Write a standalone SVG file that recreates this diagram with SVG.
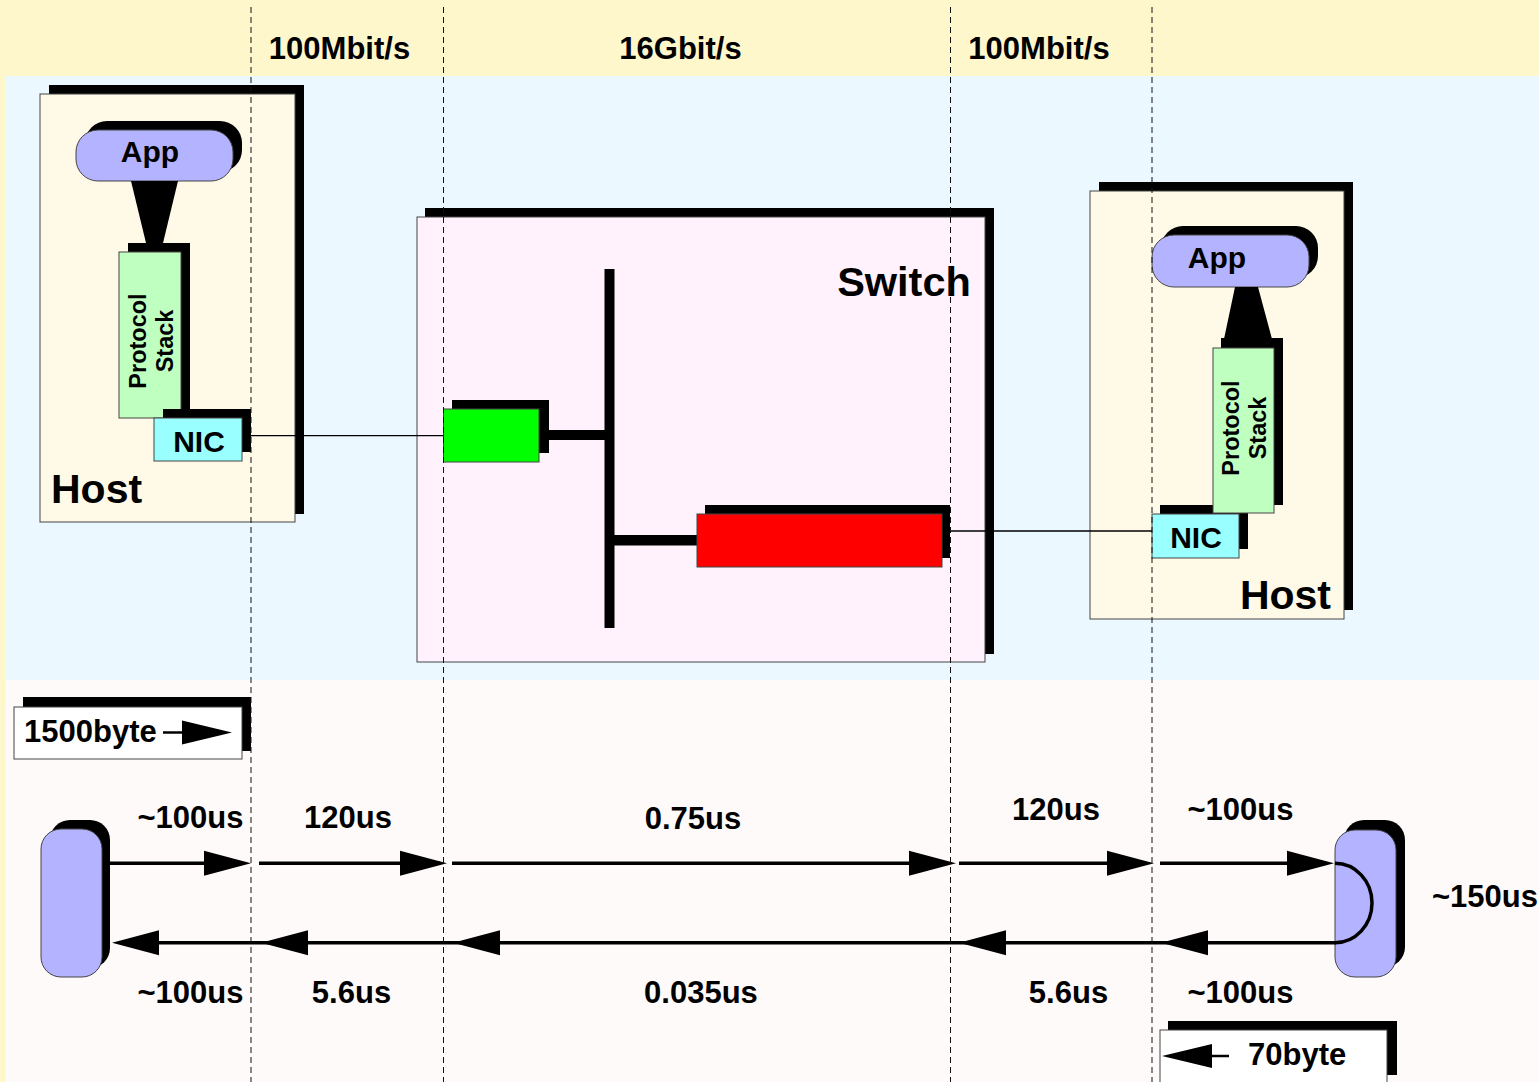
<svg xmlns="http://www.w3.org/2000/svg" xmlns:xlink="http://www.w3.org/1999/xlink" width="1539" height="1082" viewBox="0 0 1539 1082">
<style>
text{font-family:"Liberation Sans",Arial,Helvetica,sans-serif;font-weight:bold;fill:#000}
.lbl{font-size:31px;text-anchor:middle}
.box{stroke:#444;stroke-width:1}
.shadow{fill:#000}
.host{fill:#fff9e8}
.app{fill:#b3b3ff}
.ps{fill:#bfffbf}
.nic{fill:#99ffff}
.thin{stroke:#000;stroke-width:1.3;fill:none}
.arr{stroke:#000;stroke-width:3.5;fill:none}
.dash{stroke:#111;stroke-width:1;stroke-dasharray:6 4;fill:none}
</style>
<defs>
<polygon id="ahR" points="0,0 -47,-12.5 -47,12.5" fill="#000"/>
<polygon id="ahL" points="0,0 47,-12.5 47,12.5" fill="#000"/>
</defs>

<g id="background">
<rect x="0" y="0" width="1539" height="1082" fill="#fff7cc"/>
<rect x="5.5" y="76" width="1534" height="604" fill="#ecf8ff"/>
<rect x="5.5" y="680" width="1534" height="402" fill="#fffafa"/>
</g>

<g id="rate-labels">
<text class="lbl" x="339.5" y="59">100Mbit/s</text>
<text class="lbl" x="680.5" y="59">16Gbit/s</text>
<text class="lbl" x="1039" y="59">100Mbit/s</text>
</g>

<g id="host-left">
<rect class="shadow" x="49" y="85" width="255" height="429"/>
<rect class="box host" x="40" y="94" width="255" height="428"/>
<text x="51" y="503" style="font-size:41px">Host</text>
</g>

<g id="app-left">
<rect class="shadow" x="85" y="121" width="157" height="51" rx="22"/>
<rect class="box app" x="76" y="130" width="157" height="51" rx="22"/>
<text x="150" y="162" style="font-size:30px;text-anchor:middle">App</text>
<polygon points="131,181 178,181 163,243 146,243" fill="#000"/>
</g>

<g id="stack-left">
<rect class="shadow" x="128" y="243" width="62" height="166"/>
<rect class="box ps" x="119" y="252" width="62" height="166"/>
<text transform="translate(146,341) rotate(-90)" style="font-size:23.5px;text-anchor:middle">Protocol</text>
<text transform="translate(173,341) rotate(-90)" style="font-size:23.5px;text-anchor:middle">Stack</text>
</g>

<g id="nic-left">
<rect class="shadow" x="163" y="409" width="88" height="43"/>
<rect class="box nic" x="154" y="418" width="88" height="43"/>
<text x="199" y="452" style="font-size:30px;text-anchor:middle">NIC</text>
</g>

<g id="switch">
<rect class="shadow" x="425" y="208" width="569" height="446"/>
<rect class="box" x="417" y="217" width="568" height="445" fill="#fff2fc"/>
<text x="904" y="296" style="font-size:41.5px;text-anchor:middle">Switch</text>
<rect x="604.5" y="269" width="10" height="359" fill="#000"/>
<rect x="548" y="430" width="58" height="10" fill="#000"/>
<rect x="613" y="535" width="85" height="10.5" fill="#000"/>
</g>

<g id="port-in">
<rect class="shadow" x="452" y="400" width="97" height="53"/>
<rect class="box" x="443.5" y="409" width="95.5" height="53" fill="#00ff00"/>
</g>

<g id="port-out">
<rect class="shadow" x="705" y="505" width="245" height="53"/>
<rect class="box" x="697" y="514" width="245" height="53" fill="#ff0000"/>
</g>

<g id="host-right">
<rect class="shadow" x="1099" y="182" width="254" height="428"/>
<rect class="box host" x="1090" y="191" width="254" height="428"/>
<text x="1331" y="609" style="font-size:41px;text-anchor:end">Host</text>
</g>

<g id="app-right">
<rect class="shadow" x="1161" y="226" width="157" height="52" rx="22"/>
<rect class="box app" x="1152" y="235" width="157" height="52" rx="22"/>
<text x="1217" y="268" style="font-size:30px;text-anchor:middle">App</text>
<polygon points="1235,287 1258,287 1272,339 1224,339" fill="#000"/>
</g>

<g id="stack-right">
<rect class="shadow" x="1221" y="338" width="62" height="167"/>
<rect class="shadow" x="1160" y="505" width="88" height="44"/>
<rect class="box nic" x="1152" y="514" width="87" height="44"/>
<rect class="box ps" x="1213" y="348" width="61" height="165"/>
<text transform="translate(1239,428) rotate(-90)" style="font-size:23.5px;text-anchor:middle">Protocol</text>
<text transform="translate(1266,428) rotate(-90)" style="font-size:23.5px;text-anchor:middle">Stack</text>
</g>

<g id="nic-right">
<text x="1196" y="548" style="font-size:30px;text-anchor:middle">NIC</text>
</g>

<g id="links">
<line class="thin" x1="251" y1="435.6" x2="443.5" y2="435.6"/>
<line class="thin" x1="950" y1="531" x2="1152" y2="531"/>
</g>

<g id="packet-1500">
<rect class="shadow" x="23" y="697" width="228" height="54"/>
<rect class="box" x="14" y="707" width="228" height="52" fill="#fff"/>
<text x="24" y="742" style="font-size:31px">1500byte</text>
<line x1="163" y1="732.5" x2="190" y2="732.5" stroke="#000" stroke-width="2.5"/>
<polygon points="232,732.5 182,720.5 182,744.5" fill="#000"/>
</g>

<g id="packet-70">
<rect class="shadow" x="1168" y="1021" width="229" height="54"/>
<rect class="box" x="1160" y="1030" width="227" height="60" fill="#fff"/>
<text x="1248" y="1065" style="font-size:31px">70byte</text>
<line x1="1205" y1="1056" x2="1229" y2="1056" stroke="#000" stroke-width="2.5"/>
<polygon points="1162,1056 1212,1044 1212,1068" fill="#000"/>
</g>

<g id="endpoint-left">
<rect class="shadow" x="50" y="820" width="60" height="148" rx="20"/>
<rect class="box app" x="41" y="829" width="61" height="148" rx="20"/>
</g>

<g id="endpoint-right">
<rect class="shadow" x="1344" y="820" width="61" height="147" rx="20"/>
<rect class="box app" x="1335" y="830" width="61" height="147" rx="20"/>
</g>

<g id="connectors">
<line class="arr" x1="110" y1="863.3" x2="240" y2="863.3"/>
<line class="arr" x1="259" y1="863.3" x2="440" y2="863.3"/>
<line class="arr" x1="452" y1="863.3" x2="945" y2="863.3"/>
<line class="arr" x1="959" y1="863.3" x2="1145" y2="863.3"/>
<line class="arr" x1="1160" y1="863.3" x2="1325" y2="863.3"/>
<use xlink:href="#ahR" href="#ahR" x="251" y="863.3"/>
<use xlink:href="#ahR" href="#ahR" x="447" y="863.3"/>
<use xlink:href="#ahR" href="#ahR" x="956" y="863.3"/>
<use xlink:href="#ahR" href="#ahR" x="1154" y="863.3"/>
<use xlink:href="#ahR" href="#ahR" x="1334" y="863.3"/>
<path class="arr" d="M1335,863.3 A37,39.7 0 0 1 1335,942.7"/>
<line class="arr" x1="1336" y1="942.7" x2="120" y2="942.7"/>
<use xlink:href="#ahL" href="#ahL" x="1161" y="942.7"/>
<use xlink:href="#ahL" href="#ahL" x="959" y="942.7"/>
<use xlink:href="#ahL" href="#ahL" x="453" y="942.7"/>
<use xlink:href="#ahL" href="#ahL" x="261" y="942.7"/>
<use xlink:href="#ahL" href="#ahL" x="112" y="942.7"/>
</g>

<g id="timing-labels">
<text class="lbl" x="190.5" y="828">~100us</text>
<text class="lbl" x="348" y="828">120us</text>
<text class="lbl" x="693" y="829">0.75us</text>
<text class="lbl" x="1056" y="820">120us</text>
<text class="lbl" x="1240.5" y="820">~100us</text>
<text class="lbl" x="1485" y="907">~150us</text>
<text class="lbl" x="190.5" y="1003">~100us</text>
<text class="lbl" x="351.5" y="1003">5.6us</text>
<text class="lbl" x="701" y="1003">0.035us</text>
<text class="lbl" x="1068.5" y="1003">5.6us</text>
<text class="lbl" x="1240.5" y="1003">~100us</text>
</g>

<g id="rate-boundaries">
<line class="dash" x1="251" y1="7" x2="251" y2="1082"/>
<line class="dash" x1="443.5" y1="7" x2="443.5" y2="1082"/>
<line class="dash" x1="950.5" y1="7" x2="950.5" y2="1082"/>
<line class="dash" x1="1152" y1="7" x2="1152" y2="1082"/>
</g>
</svg>
